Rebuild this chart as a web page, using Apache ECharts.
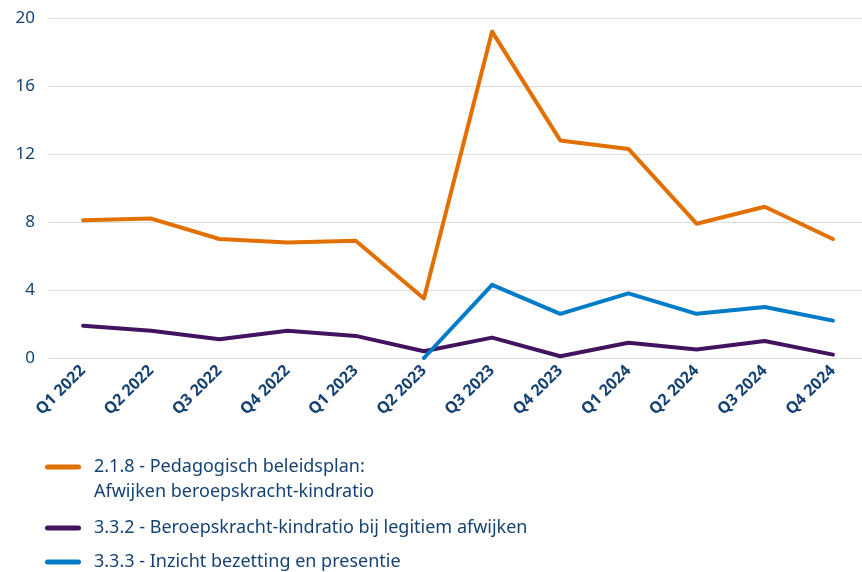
<!DOCTYPE html>
<html>
<head>
<meta charset="utf-8">
<script src="https://cdn.jsdelivr.net/npm/echarts@6/dist/echarts.min.js"></script>
<style>
  html, body { margin: 0; padding: 0; background: #fff; overflow: hidden; }
  /* a few px wider than the window: the last grid column runs off the right edge */
  #chart { width: 867px; height: 572px; }
</style>
</head>
<body>
<div id="chart"></div>
<script>
var quarters = ['Q1 2022', 'Q2 2022', 'Q3 2022', 'Q4 2022', 'Q1 2023', 'Q2 2023',
  'Q3 2023', 'Q4 2023', 'Q1 2024', 'Q2 2024', 'Q3 2024', 'Q4 2024'];
var yTicks = [0, 4, 8, 12, 16, 20];

var name218 = '2.1.8 - Pedagogisch beleidsplan:\nAfwijken beroepskracht-kindratio';
var name332 = '3.3.2 - Beroepskracht-kindratio bij legitiem afwijken';
var name333 = '3.3.3 - Inzicht bezetting en presentie';

var values218 = [8.1, 8.2, 7.0, 6.8, 6.9, 3.5, 19.2, 12.8, 12.3, 7.9, 8.9, 7.0];
var values332 = [1.9, 1.6, 1.1, 1.6, 1.3, 0.4, 1.2, 0.1, 0.9, 0.5, 1.0, 0.2];
var values333 = [null, null, null, null, null, 0, 4.3, 2.6, 3.8, 2.6, 3.0, 2.2];

var textColor = '#154273';
var fontName = 'Noto Sans';

// rounded bar with an empty point to its right, so the text sits a bit further away
var legendIcon = 'path://M2.5,0h31a2.5,2.5 0 0 1 0,5h-31a2.5,2.5 0 0 1 0,-5z M44,2.5L44,2.5';

function lineSeries(name, data, color) {
  return {
    name: name,
    type: 'line',
    data: data,
    showSymbol: false,
    symbol: 'none',
    lineStyle: { color: color, width: 4, cap: 'round', join: 'round' },
    itemStyle: { color: color },
    emphasis: { disabled: true }
  };
}

// one legend per entry; iconMid is the screen y of the coloured bar
function legendBox(name, iconMid, lines) {
  return {
    data: [name],
    orient: 'vertical',
    left: 45,
    top: iconMid - lines * 12.5,
    padding: 0,
    itemWidth: 44,
    itemHeight: 5,
    icon: legendIcon,
    selectedMode: false,
    formatter: function (n) {
      // extra blank line on top keeps the bar level with the first text line
      return lines === 3 ? '\n' + n : n;
    },
    textStyle: {
      color: textColor,
      fontFamily: fontName,
      fontSize: 18,
      lineHeight: 25
    }
  };
}

var chart = echarts.init(document.getElementById('chart'));
chart.setOption({
  animation: false,
  grid: { left: 49, top: 18, right: 0, height: 340, containLabel: false },
  xAxis: {
    type: 'category',
    data: quarters,
    boundaryGap: true,
    axisLine: { show: false },
    axisTick: { show: false },
    axisLabel: {
      rotate: 45,
      interval: 0,
      margin: 10,
      color: textColor,
      fontFamily: fontName,
      fontWeight: 'bold',
      fontSize: 16
    }
  },
  yAxis: {
    type: 'value',
    min: yTicks[0],
    max: yTicks[yTicks.length - 1],
    interval: 4,
    axisLine: { show: false },
    axisTick: { show: false },
    axisLabel: {
      margin: 14,
      color: textColor,
      fontFamily: fontName,
      fontSize: 17
    },
    splitLine: { lineStyle: { color: '#dcdcdc', width: 1 } }
  },
  legend: [
    legendBox(name218, 467, 3),
    legendBox(name332, 528, 1),
    legendBox(name333, 562, 1)
  ],
  series: [
    lineSeries(name218, values218, '#e17000'),
    lineSeries(name332, values332, '#42145f'),
    lineSeries(name333, values333, '#007bc7')
  ]
});
</script>
</body>
</html>
